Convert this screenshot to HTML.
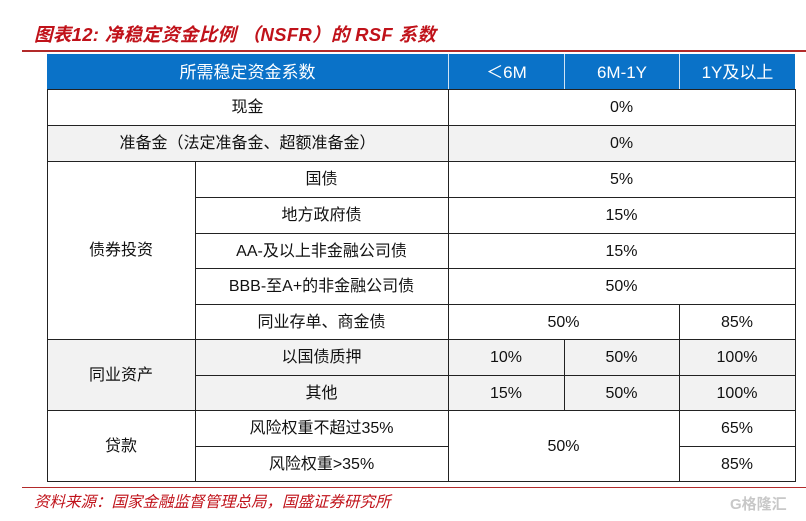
<!DOCTYPE html><html><head><meta charset="utf-8"><style>
body{margin:0;width:806px;height:521px;background:#fff;position:relative;overflow:hidden;font-family:"Liberation Sans","Noto Sans CJK SC",sans-serif;}
.c{position:absolute;box-sizing:border-box;display:flex;align-items:center;justify-content:center;font-size:16px;color:#111;line-height:20px;padding-top:2px}
.g{background:#f2f2f2}
.h{background:#0a72c8;color:#fff;font-size:17px}
.l{position:absolute;background:#222}
</style></head><body>
<div style="position:absolute;left:34px;top:21px;font-size:18.5px;font-weight:bold;font-style:italic;color:#c0121a;letter-spacing:0.3px">图表12: 净稳定资金比例 （NSFR）的 RSF 系数</div>
<div style="position:absolute;left:22px;top:50px;width:784px;height:2px;background:#b22a2a"></div>

<div class="c h" style="left:47px;top:54px;width:401px;height:35px">所需稳定资金系数</div>
<div class="c h" style="left:449px;top:54px;width:115px;height:35px">＜6M</div>
<div class="c h" style="left:565px;top:54px;width:114px;height:35px">6M-1Y</div>
<div class="c h" style="left:680px;top:54px;width:115px;height:35px">1Y及以上</div>

<div class="c" style="left:47px;top:89px;width:401px;height:36px">现金</div>
<div class="c" style="left:448px;top:89px;width:347px;height:36px">0%</div>
<div class="c g" style="left:47px;top:125px;width:748px;height:36px"></div>
<div class="c" style="left:47px;top:125px;width:401px;height:36px">准备金（法定准备金、超额准备金）</div>
<div class="c" style="left:448px;top:125px;width:347px;height:36px">0%</div>

<div class="c" style="left:47px;top:161px;width:148px;height:178px">债券投资</div>
<div class="c" style="left:195px;top:161px;width:253px;height:36px">国债</div>
<div class="c" style="left:448px;top:161px;width:347px;height:36px">5%</div>
<div class="c" style="left:195px;top:197px;width:253px;height:36px">地方政府债</div>
<div class="c" style="left:448px;top:197px;width:347px;height:36px">15%</div>
<div class="c" style="left:195px;top:233px;width:253px;height:35px">AA-及以上非金融公司债</div>
<div class="c" style="left:448px;top:233px;width:347px;height:35px">15%</div>
<div class="c" style="left:195px;top:268px;width:253px;height:36px">BBB-至A+的非金融公司债</div>
<div class="c" style="left:448px;top:268px;width:347px;height:36px">50%</div>
<div class="c" style="left:195px;top:304px;width:253px;height:35px">同业存单、商金债</div>
<div class="c" style="left:448px;top:304px;width:231px;height:35px">50%</div>
<div class="c" style="left:679px;top:304px;width:116px;height:35px">85%</div>

<div class="c g" style="left:47px;top:339px;width:748px;height:71px"></div>
<div class="c" style="left:47px;top:339px;width:148px;height:71px">同业资产</div>
<div class="c" style="left:195px;top:339px;width:253px;height:36px">以国债质押</div>
<div class="c" style="left:448px;top:339px;width:116px;height:36px">10%</div>
<div class="c" style="left:564px;top:339px;width:115px;height:36px">50%</div>
<div class="c" style="left:679px;top:339px;width:116px;height:36px">100%</div>
<div class="c" style="left:195px;top:375px;width:253px;height:35px">其他</div>
<div class="c" style="left:448px;top:375px;width:116px;height:35px">15%</div>
<div class="c" style="left:564px;top:375px;width:115px;height:35px">50%</div>
<div class="c" style="left:679px;top:375px;width:116px;height:35px">100%</div>

<div class="c" style="left:47px;top:410px;width:148px;height:71px">贷款</div>
<div class="c" style="left:195px;top:410px;width:253px;height:36px">风险权重不超过35%</div>
<div class="c" style="left:195px;top:446px;width:253px;height:35px">风险权重&gt;35%</div>
<div class="c" style="left:448px;top:410px;width:231px;height:71px">50%</div>
<div class="c" style="left:679px;top:410px;width:116px;height:36px">65%</div>
<div class="c" style="left:679px;top:446px;width:116px;height:35px">85%</div>

<div class="l" style="left:47px;top:89px;width:749px;height:1px"></div>
<div class="l" style="left:47px;top:125px;width:749px;height:1px"></div>
<div class="l" style="left:47px;top:161px;width:749px;height:1px"></div>
<div class="l" style="left:195px;top:197px;width:601px;height:1px"></div>
<div class="l" style="left:195px;top:233px;width:601px;height:1px"></div>
<div class="l" style="left:195px;top:268px;width:601px;height:1px"></div>
<div class="l" style="left:195px;top:304px;width:601px;height:1px"></div>
<div class="l" style="left:47px;top:339px;width:749px;height:1px"></div>
<div class="l" style="left:195px;top:375px;width:601px;height:1px"></div>
<div class="l" style="left:47px;top:410px;width:749px;height:1px"></div>
<div class="l" style="left:195px;top:446px;width:253px;height:1px"></div>
<div class="l" style="left:679px;top:446px;width:117px;height:1px"></div>
<div class="l" style="left:47px;top:481px;width:749px;height:1px"></div>
<div class="l" style="left:47px;top:89px;width:1px;height:393px"></div>
<div class="l" style="left:795px;top:89px;width:1px;height:393px"></div>
<div class="l" style="left:448px;top:89px;width:1px;height:393px"></div>
<div class="l" style="left:195px;top:161px;width:1px;height:321px"></div>
<div class="l" style="left:679px;top:304px;width:1px;height:178px"></div>
<div class="l" style="left:564px;top:339px;width:1px;height:71px"></div>
<div style="position:absolute;left:448px;top:54px;width:1px;height:35px;background:#cfe3f5"></div>
<div style="position:absolute;left:564px;top:54px;width:1px;height:35px;background:#cfe3f5"></div>
<div style="position:absolute;left:679px;top:54px;width:1px;height:35px;background:#cfe3f5"></div>

<div style="position:absolute;left:22px;top:487px;width:784px;height:1px;background:#b22a2a"></div>
<div style="position:absolute;left:34px;top:490px;font-size:15.5px;font-style:italic;color:#c0121a;">资料来源：国家金融监督管理总局，国盛证券研究所</div>
<div style="position:absolute;left:730px;top:493px;font-size:15px;color:#c8c8c8;font-weight:bold">G格隆汇</div>
</body></html>
